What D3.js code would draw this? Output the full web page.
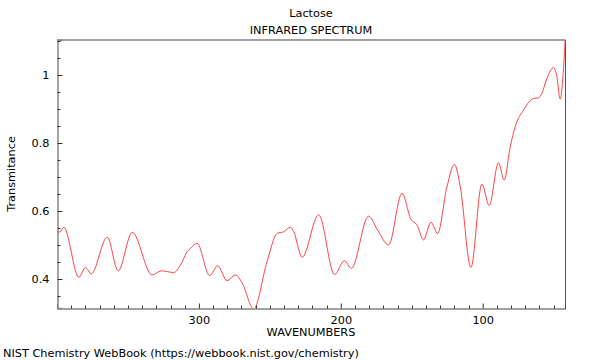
<!DOCTYPE html>
<html><head><meta charset="utf-8">
<script src="https://cdn.jsdelivr.net/npm/d3@7"></script>
<style>body{margin:0;background:#fff}svg{display:block}text{font-family:"DejaVu Sans",sans-serif;font-size:11.3px;fill:#000}</style>
</head><body><svg id="c" width="600" height="360"></svg>
<script>
const wavenumbers = [400,398.0,395.2,384.6,379.9,375.9,364.6,356.9,347.0,333.0,326.4,317.7,313.0,308.3,306.0,301.3,292.4,286.8,280.1,274.3,269.6,261.4,252.0,244.9,240.3,235.6,233.2,227.3,215.6,204.4,197.5,192.6,180.4,174.1,166.3,156.9,150.6,146.3,141.7,136.5,131.8,125.2,119.9,115.8,108.3,100.6,95.4,88.9,84.9,80.6,77.1,71.3,64.2,60.7,58.3,54.8,50.1,47.7,45.4,43.1,41.2];
const transmittance = [0.539,0.538,0.552,0.405,0.434,0.415,0.523,0.424,0.537,0.412,0.424,0.419,0.441,0.48,0.49,0.505,0.410,0.439,0.395,0.412,0.389,0.312,0.451,0.534,0.539,0.552,0.539,0.464,0.589,0.413,0.454,0.431,0.585,0.544,0.5,0.652,0.576,0.559,0.515,0.567,0.534,0.671,0.737,0.671,0.434,0.679,0.616,0.742,0.691,0.789,0.848,0.897,0.931,0.933,0.946,0.99,1.022,0.995,0.929,1.015,1.16];
const xMajorTicks = [300,200,100];
const yMajorTicks = [0.4,0.6,0.8,1];
const title = "Lactose", subtitle = "INFRARED SPECTRUM";
const xLabel = "WAVENUMBERS", yLabel = "Transmitance";
const credit = "NIST Chemistry WebBook (https://webbook.nist.gov/chemistry)";

const L=57,R=565,T=40,B=308;
const svg=d3.select("#c");
const x=d3.scaleLinear().domain([400,42]).range([L,R]);
const y=d3.scaleLinear().domain([0.3147,1.103]).range([B,T]);

svg.append("clipPath").attr("id","clip").append("rect").attr("x",L).attr("y",T).attr("width",R-L).attr("height",B-T);
const data=wavenumbers.map((w,i)=>[w,transmittance[i]]);
svg.append("path").datum(data).attr("clip-path","url(#clip)")
  .attr("fill","none").attr("stroke","#ff3030").attr("stroke-width",0.9)
  .attr("d",d3.line().x(d=>x(d[0])).y(d=>y(d[1])).curve(d3.curveMonotoneX));

// frame
svg.append("line").attr("x1",L).attr("x2",R+0.5).attr("y1",T).attr("y2",T).attr("stroke","#a0a0a0").attr("stroke-width",2);
svg.append("line").attr("x1",R+0.5).attr("x2",R+0.5).attr("y1",T).attr("y2",B).attr("stroke","#555").attr("stroke-width",1);

// x axis
const xMinor=d3.range(50,400,10).filter(v=>!xMajorTicks.includes(v));
const xAx=d3.axisBottom(x).tickValues(xMajorTicks).tickSize(-5).tickPadding(7).tickFormat(d3.format("d"));
const gx=svg.append("g").attr("transform",`translate(0,${B+0.5})`).call(xAx);
gx.select(".domain").attr("stroke","#444");
gx.selectAll(".tick line").attr("stroke","#333");
gx.selectAll("text").style("font-size","11.3px").attr("fill","#000");
gx.selectAll(".minor").data(xMinor).enter().append("line").attr("class","minor")
  .attr("x1",d=>Math.round(x(d))+0.5).attr("x2",d=>Math.round(x(d))+0.5).attr("y1",0).attr("y2",-3).attr("stroke","#333");

// y axis
const yMinor=d3.range(0.35,1.101,0.05).map(v=>+v.toFixed(2)).filter(v=>!yMajorTicks.includes(v));
const yAx=d3.axisLeft(y).tickValues(yMajorTicks).tickSize(-5).tickPadding(8).tickFormat(d=>d===1?"1":d3.format(".1f")(d));
const gy=svg.append("g").attr("transform",`translate(${L+0.5},0)`).call(yAx);
gy.select(".domain").attr("stroke","#888").attr("stroke-width",1.5);
gy.selectAll(".tick line").attr("stroke","#333");
gy.selectAll("text").style("font-size","11.3px").attr("fill","#000");
gy.selectAll(".minor").data(yMinor).enter().append("line").attr("class","minor")
  .attr("y1",d=>Math.round(y(d))+0.5).attr("y2",d=>Math.round(y(d))+0.5).attr("x1",0).attr("x2",3).attr("stroke","#333");

// texts
svg.append("text").attr("x",(L+R)/2).attr("y",17).attr("text-anchor","middle").text(title);
svg.append("text").attr("x",(L+R)/2).attr("y",34).attr("text-anchor","middle").text(subtitle);
svg.append("text").attr("x",(L+R)/2).attr("y",336).attr("text-anchor","middle").text(xLabel);
svg.append("text").attr("transform",`translate(15,${(T+B)/2}) rotate(-90)`).attr("text-anchor","middle").text(yLabel);
svg.append("text").attr("x",3).attr("y",357).text(credit);
</script></body></html>
